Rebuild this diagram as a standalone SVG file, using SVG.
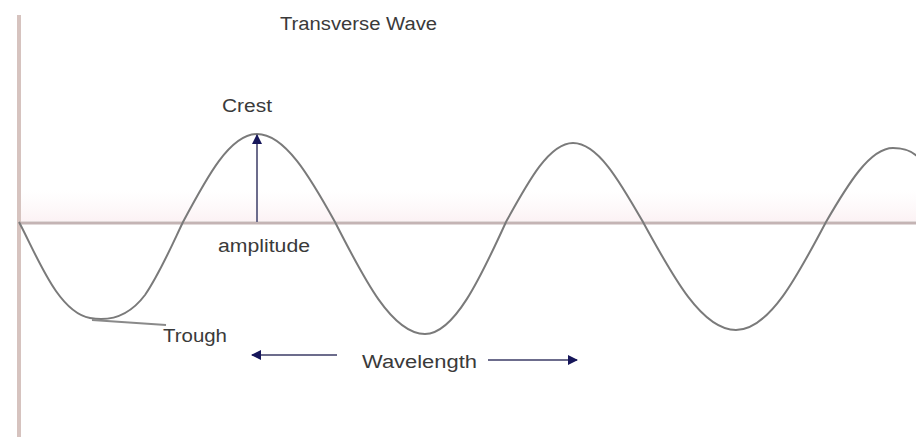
<svg xmlns="http://www.w3.org/2000/svg" width="916" height="437" viewBox="0 0 916 437">
  <defs>
    <style>
      .lbl { font-family: "Liberation Sans", Arial, sans-serif; font-size: 18px; fill: #3a3a3a; }
      .axis-h { stroke: #c4b4b4; stroke-width: 3; fill: none; }
      .axis-v { stroke: #d6c3bf; stroke-width: 4; fill: none; }
      .wave { stroke: #7a7a7a; stroke-width: 2; fill: none; }
      .conn { stroke: #6c6c8c; stroke-width: 2; fill: none; }
      .lead { stroke: #8a8a8a; stroke-width: 2; fill: none; }
    </style>
    <marker id="ah" viewBox="0 0 10 10" refX="9" refY="5" markerWidth="5" markerHeight="5" orient="auto" markerUnits="strokeWidth">
      <path d="M0,0 L10,5 L0,10 Z" fill="#16165a"/>
    </marker>
    <linearGradient id="band" x1="0" y1="0" x2="0" y2="1">
      <stop offset="0" stop-color="#fdf6f8" stop-opacity="0"/>
      <stop offset="1" stop-color="#fcf2f4" stop-opacity="1"/>
    </linearGradient>
  </defs>
  <rect width="916" height="437" fill="#ffffff"/>
  <rect x="21" y="190" width="895" height="31" fill="url(#band)"/>

  <g id="axes">
    <line class="axis-v" x1="19" y1="15" x2="19" y2="437"/>
    <line class="axis-h" x1="19" y1="223" x2="916" y2="223"/>
  </g>

  <g id="wave">
    <path class="wave" d="M19,222 C38,258 58,312 90,318 C112,322 130,315 145,295 C160,273 172,245 183,222 C207,177 230,134 257,134 C285,134 310,177 335,222 C364,279 392,334 425,334 C454,334 480,279 506,222 C528,182 549,143 573,143 C598,143 620,182 643,222 C673,277 702,330 736,330 C769,330 797,277 826,222 C848,184 870,148 893,148 C905,148 911,151 917,156"/>
  </g>

  <g id="connectors">
    <line class="conn" x1="257" y1="222" x2="257" y2="135" marker-end="url(#ah)"/>
    <line class="lead" x1="92" y1="320" x2="166" y2="325"/>
    <line class="conn" x1="337" y1="355" x2="252" y2="355" marker-end="url(#ah)"/>
    <line class="conn" x1="488" y1="360" x2="577" y2="360" marker-end="url(#ah)"/>
  </g>

  <g id="title"><text class="lbl" x="280" y="30" font-size="17" textLength="157" lengthAdjust="spacingAndGlyphs">Transverse Wave</text></g>
  <g id="crest"><text class="lbl" x="222" y="112" textLength="50" lengthAdjust="spacingAndGlyphs">Crest</text></g>
  <g id="amplitude"><text class="lbl" x="218" y="252" textLength="92" lengthAdjust="spacingAndGlyphs">amplitude</text></g>
  <g id="trough"><text class="lbl" x="163" y="342" textLength="64" lengthAdjust="spacingAndGlyphs">Trough</text></g>
  <g id="wavelength"><text class="lbl" x="362" y="368" textLength="115" lengthAdjust="spacingAndGlyphs">Wavelength</text></g>
</svg>
